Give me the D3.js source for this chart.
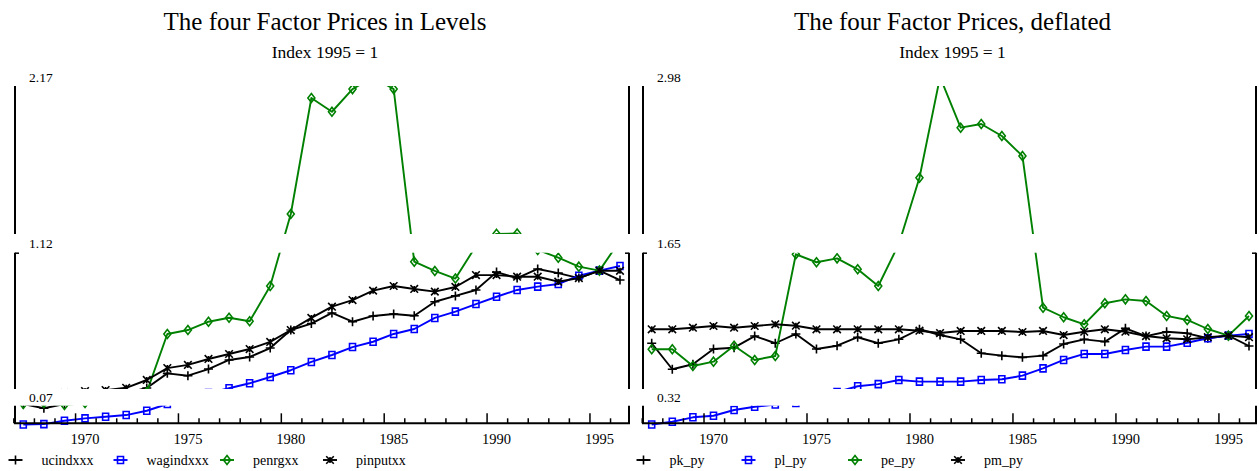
<!DOCTYPE html>
<html>
<head>
<meta charset="utf-8">
<script src="https://cdn.jsdelivr.net/npm/d3@7/dist/d3.min.js"></script>
<style>
  body { margin: 0; background: #fff; }
  svg { display: block; }
  text { font-family: "Liberation Serif", "Times New Roman", serif; fill: #000; }
</style>
</head>
<body>
<svg id="chart" width="1259" height="471"></svg>
<script>
// ---- data -------------------------------------------------------------
const years = [1967, 1968, 1969, 1970, 1971, 1972, 1973, 1974, 1975, 1976,
               1977, 1978, 1979, 1980, 1981, 1982, 1983, 1984, 1985, 1986,
               1987, 1988, 1989, 1990, 1991, 1992, 1993, 1994, 1995, 1996];

// factor prices in levels (index 1995 = 1)
const ucindxxx  = [0.194, 0.168, 0.194, 0.230, 0.242, 0.260, 0.291, 0.379, 0.365, 0.405,
                   0.460, 0.478, 0.532, 0.641, 0.680, 0.744, 0.691, 0.726, 0.738, 0.727,
                   0.812, 0.847, 0.883, 0.991, 0.955, 1.010, 0.985, 0.955, 1.000, 0.943];
const wagindxxx = [0.070, 0.072, 0.093, 0.107, 0.117, 0.127, 0.153, 0.194, 0.230, 0.260,
                   0.289, 0.319, 0.357, 0.398, 0.448, 0.490, 0.538, 0.570, 0.617, 0.647,
                   0.714, 0.752, 0.798, 0.842, 0.883, 0.903, 0.919, 0.969, 1.000, 1.028];
const penrgxx   = [0.194, 0.200, 0.188, 0.200, 0.224, 0.230, 0.266, 0.617, 0.641, 0.691,
                   0.715, 0.694, 0.907, 1.342, 2.043, 1.960, 2.097, 2.170, 2.097, 1.054,
                   0.998, 0.952, 1.149, 1.222, 1.224, 1.125, 1.078, 1.024, 1.000, 1.181];
const pinputxx  = [0.236, 0.242, 0.260, 0.272, 0.278, 0.292, 0.339, 0.411, 0.430, 0.466,
                   0.496, 0.526, 0.569, 0.641, 0.714, 0.782, 0.822, 0.879, 0.907, 0.889,
                   0.873, 0.901, 0.973, 0.973, 0.963, 0.963, 0.933, 0.955, 1.000, 0.999];

// factor prices deflated by the output price
const pk_py = [0.942, 0.743, 0.781, 0.898, 0.908, 0.997, 0.942, 1.013, 0.898, 0.923,
               0.988, 0.942, 0.972, 1.049, 1.005, 0.972, 0.865, 0.847, 0.834, 0.847,
               0.936, 0.972, 0.954, 1.056, 0.997, 1.030, 1.018, 0.980, 1.000, 0.921];
const pl_py = [0.320, 0.341, 0.375, 0.387, 0.431, 0.456, 0.473, 0.485, 0.523, 0.569,
               0.613, 0.629, 0.661, 0.648, 0.648, 0.648, 0.661, 0.666, 0.694, 0.750,
               0.814, 0.860, 0.860, 0.890, 0.916, 0.916, 0.946, 0.980, 1.000, 1.013];
const pe_py = [0.896, 0.896, 0.768, 0.801, 0.923, 0.814, 0.844, 1.623, 1.562, 1.592,
               1.508, 1.380, 1.702, 2.209, 2.980, 2.592, 2.620, 2.528, 2.375, 1.214,
               1.141, 1.087, 1.248, 1.278, 1.265, 1.151, 1.120, 1.051, 1.000, 1.151];
const pm_py = [1.049, 1.049, 1.061, 1.074, 1.061, 1.074, 1.087, 1.076, 1.049, 1.049,
               1.049, 1.049, 1.049, 1.038, 1.020, 1.036, 1.036, 1.036, 1.028, 1.036,
               1.005, 1.030, 1.049, 1.030, 0.997, 0.980, 0.972, 0.988, 1.000, 0.988];

// axis annotations: max, mid, min
const levelTickLabels    = ["2.17", "1.12", "0.07"];
const deflatedTickLabels = ["2.98", "1.65", "0.32"];
const yearTickLabels = [1970, 1975, 1980, 1985, 1990, 1995];

const titles    = ["The four Factor Prices in Levels", "The four Factor Prices, deflated"];
const subtitles = ["Index 1995 = 1", "Index 1995 = 1"];

const levelNames    = ["ucindxxx", "wagindxxx", "penrgxx", "pinputxx"];
const deflatedNames = ["pk_py", "pl_py", "pe_py", "pm_py"];
const seriesColors  = ["#000000", "#0000ff", "#008000", "#000000"];
const seriesMarkers = ["plus", "square", "diamond", "star"];

// ---- layout -----------------------------------------------------------
const layout = {
  yTop: 77, yBottom: 424.5,          // range of the value scale
  clipTop: 86, axisY: 423.3,
  bands: [[234, 252.7], [389, 405.7]],
  segments: [[86, 234], [252.7, 389], [405.7, 423.3]],
  labelRows: [77, 243.3, 397.5],
  legendY: 460,
  legendOffsets: [0.5, 105.5, 212, 315]
};

const panels = [
  { left: 15, right: 629, firstX: 23.3, lastX: 620,
    names: levelNames, values: [ucindxxx, wagindxxx, penrgxx, pinputxx],
    ticks: levelTickLabels, title: titles[0], subtitle: subtitles[0] },
  { left: 643, right: 1256, firstX: 651.7, lastX: 1249,
    names: deflatedNames, values: [pk_py, pl_py, pe_py, pm_py],
    ticks: deflatedTickLabels, title: titles[1], subtitle: subtitles[1] }
];

const svg = d3.select("#chart");

// marker shapes drawn as paths around (0,0)
function markerPath(type) {
  switch (type) {
    case "plus":    return "M-4.5,0H4.5M0,-4.5V4.5";
    case "square":  return "M-3,-3.5H3V3.5H-3Z";
    case "diamond": return "M0,-4.5L3.5,0L0,4.5L-3.5,0Z";
    case "star":    return "M-3.8,-3.8L3.8,3.8M-3.8,3.8L3.8,-3.8M0,-3V3";
  }
}

panels.forEach((p, pi) => {
  const g = svg.append("g");
  const all = p.values.flat();
  const x = d3.scaleLinear().domain([years[0], years[years.length - 1]]).range([p.firstX, p.lastX]);
  const y = d3.scaleLinear().domain(d3.extent(all)).range([layout.yBottom, layout.yTop]);
  const cx = (p.left + p.right) / 2 + 3;

  // titles
  g.append("text").attr("x", cx).attr("y", 30).attr("text-anchor", "middle")
    .style("font-size", "25px").text(p.title);
  g.append("text").attr("x", cx).attr("y", 58).attr("text-anchor", "middle")
    .style("font-size", "17.5px").text(p.subtitle);

  // clipped plotting area
  const clipId = "clip" + pi;
  svg.append("clipPath").attr("id", clipId).append("rect")
    .attr("x", p.left).attr("y", layout.clipTop)
    .attr("width", p.right - p.left).attr("height", 440 - layout.clipTop);
  const plot = g.append("g").attr("clip-path", `url(#${clipId})`);

  const line = d3.line().x((d, i) => x(years[i])).y(d => y(d));
  p.values.forEach((vals, si) => {
    const col = seriesColors[si];
    plot.append("path").datum(vals).attr("d", line)
      .attr("fill", "none").attr("stroke", col).attr("stroke-width", 1.9)
      .attr("stroke-linejoin", "round");
    plot.selectAll(null).data(vals).enter().append("path")
      .attr("transform", (d, i) => `translate(${x(years[i])},${y(d)})`)
      .attr("d", markerPath(seriesMarkers[si]))
      .attr("fill", "none").attr("stroke", col).attr("stroke-width", 1.6);
  });

  // white bands that carry the value labels
  layout.bands.forEach(b => {
    g.append("rect").attr("x", p.left - 2).attr("y", b[0])
      .attr("width", p.right - p.left + 4).attr("height", b[1] - b[0]).attr("fill", "#fff");
  });

  // vertical axis segments (left and right)
  [p.left, p.right].forEach((ax, k) => {
    layout.segments.forEach((s, si) => {
      g.append("line").attr("x1", ax).attr("x2", ax).attr("y1", s[0]).attr("y2", s[1])
        .attr("stroke", "#000").attr("stroke-width", 2);
      if (si === 1) {
        const dir = k === 0 ? 1 : -1;
        g.append("line").attr("x1", ax).attr("x2", ax + dir * 4)
          .attr("y1", s[0] + 0.5).attr("y2", s[0] + 0.5)
          .attr("stroke", "#000").attr("stroke-width", 1.5);
      }
    });
  });

  // value labels
  p.ticks.forEach((t, i) => {
    g.append("text").attr("x", p.left + 14).attr("y", layout.labelRows[i])
      .attr("dy", "0.35em").style("font-size", "13.5px").text(t);
  });

  // horizontal axis
  g.append("line").attr("x1", p.left - 1).attr("x2", p.right + 1)
    .attr("y1", layout.axisY).attr("y2", layout.axisY)
    .attr("stroke", "#000").attr("stroke-width", 2);
  years.forEach(yr => {
    const major = yr % 5 === 0;
    const tx = x(yr - 0.46);
    g.append("line").attr("x1", tx).attr("x2", tx)
      .attr("y1", layout.axisY).attr("y2", layout.axisY - (major ? 10 : 5))
      .attr("stroke", "#000").attr("stroke-width", 1.5);
  });
  yearTickLabels.forEach(yr => {
    g.append("text").attr("x", x(yr)).attr("y", 438.5).attr("dy", "0.35em")
      .attr("text-anchor", "middle").style("font-size", "14.5px").text(yr);
  });

  // legend
  p.names.forEach((n, si) => {
    const lx = p.left + layout.legendOffsets[si];
    const col = seriesColors[si];
    g.append("line").attr("x1", lx - 7).attr("x2", lx + 7)
      .attr("y1", layout.legendY).attr("y2", layout.legendY)
      .attr("stroke", col).attr("stroke-width", 1.9);
    g.append("path").attr("transform", `translate(${lx},${layout.legendY})`)
      .attr("d", markerPath(seriesMarkers[si]))
      .attr("fill", "none").attr("stroke", col).attr("stroke-width", 1.6);
    g.append("text").attr("x", lx + 26).attr("y", layout.legendY).attr("dy", "0.35em")
      .style("font-size", "14px").text(n);
  });
});
</script>
</body>
</html>
